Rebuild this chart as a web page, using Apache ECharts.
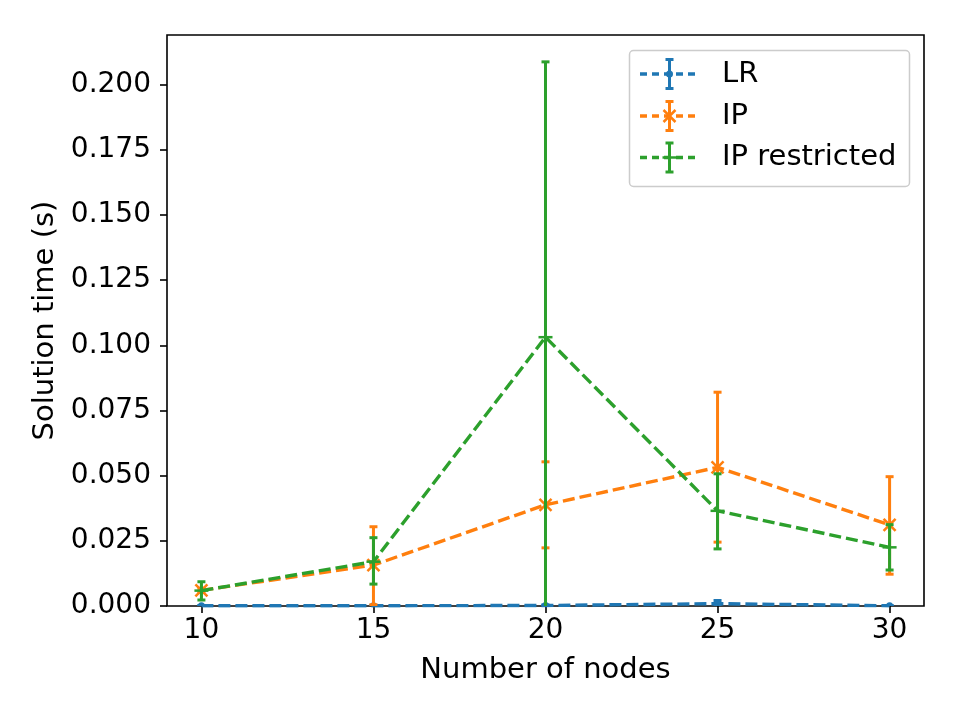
<!DOCTYPE html>
<html>
<head>
<meta charset="utf-8">
<script src="https://cdn.jsdelivr.net/npm/echarts@6/dist/echarts.min.js"></script>
<style>
  html, body { margin: 0; padding: 0; background: #fff; }
  #chart { width: 961px; height: 719px; }
</style>
</head>
<body>
<div id="chart"></div>
<script>
// number of nodes on the x axis
var nodes = [10, 15, 20, 25, 30];

// LR
var lrMean = [0.0001, 0.0001, 0.0002, 0.0009, 0.0001];
var lrLow  = [0.0000, 0.0000, 0.0000, 0.0000, 0.0000];
var lrHigh = [0.0002, 0.0002, 0.0004, 0.0021, 0.0002];

// IP
var ipMean = [0.0060, 0.0157, 0.0388, 0.0532, 0.0311];
var ipLow  = [0.0052, 0.0005, 0.0223, 0.0245, 0.0122];
var ipHigh = [0.0068, 0.0304, 0.0553, 0.0820, 0.0496];

// IP restricted
var iprMean = [0.0059, 0.0170, 0.1031, 0.0365, 0.0225];
var iprLow  = [0.0023, 0.0084, -0.0025, 0.0219, 0.0138];
var iprHigh = [0.0093, 0.0262, 0.2087, 0.0507, 0.0312];

var xTicks = [10, 15, 20, 25, 30];
var yTicks = [0, 0.025, 0.05, 0.075, 0.1, 0.125, 0.15, 0.175, 0.2];

var C_LR = '#1f77b4', C_IP = '#ff7f0e', C_IPR = '#2ca02c';
var FONT = 'DejaVu Sans';

function zipLine(mean) {
    return nodes.map(function (x, i) { return [x, mean[i]]; });
}
function zipBars(mean, low, high) {
    return nodes.map(function (x, i) { return [x, mean[i], low[i], high[i]]; });
}

// marker shapes, drawn around (cx, cy)
function marker(kind, cx, cy, color) {
    if (kind === 'dot') {
        return [{ type: 'circle', shape: { cx: cx, cy: cy, r: 3.5 }, style: { fill: color } }];
    }
    var st = { stroke: color, lineWidth: 2.5 };
    if (kind === 'x') {
        return [
            { type: 'line', shape: { x1: cx - 6, y1: cy - 6, x2: cx + 6, y2: cy + 6 }, style: st },
            { type: 'line', shape: { x1: cx - 6, y1: cy + 6, x2: cx + 6, y2: cy - 6 }, style: st }
        ];
    }
    return [
        { type: 'line', shape: { x1: cx - 7, y1: cy, x2: cx + 7, y2: cy }, style: st },
        { type: 'line', shape: { x1: cx, y1: cy - 7, x2: cx, y2: cy + 7 }, style: st }
    ];
}

function errorBars(color, kind) {
    return function (params, api) {
        var x = api.value(0);
        var pm = api.coord([x, api.value(1)]);
        var pl = api.coord([x, api.value(2)]);
        var ph = api.coord([x, api.value(3)]);
        var st = { stroke: color, lineWidth: 3 };
        var kids = [
            { type: 'line', shape: { x1: ph[0], y1: ph[1], x2: pl[0], y2: pl[1] }, style: st },
            { type: 'line', shape: { x1: ph[0] - 4, y1: ph[1], x2: ph[0] + 4, y2: ph[1] }, style: st },
            { type: 'line', shape: { x1: pl[0] - 4, y1: pl[1], x2: pl[0] + 4, y2: pl[1] }, style: st }
        ];
        return { type: 'group', children: kids.concat(marker(kind, pm[0], pm[1], color)) };
    };
}

function lineSeries(name, mean, color, z) {
    return {
        name: name, type: 'line', data: zipLine(mean), showSymbol: false,
        lineStyle: { color: color, width: 3.4, type: [12, 5] },
        z: z, silent: true, animation: false
    };
}
function barSeries(name, mean, low, high, color, kind, z) {
    return {
        name: name, type: 'custom', data: zipBars(mean, low, high),
        renderItem: errorBars(color, kind), clip: true,
        encode: { x: 0, y: 1 }, z: z, silent: true, animation: false
    };
}

// legend drawn by hand so it gets the dashed line + error bar glyph
function legendRow(y, color, kind, label) {
    var st = { stroke: color, lineWidth: 3 };
    var kids = [
        { type: 'line', shape: { x1: 640, y1: y, x2: 699, y2: y }, style: { stroke: color, lineWidth: 3.4, lineDash: [7, 5] } },
        { type: 'line', shape: { x1: 669.5, y1: y - 14.5, x2: 669.5, y2: y + 14.5 }, style: st },
        { type: 'line', shape: { x1: 665.5, y1: y - 14.5, x2: 673.5, y2: y - 14.5 }, style: st },
        { type: 'line', shape: { x1: 665.5, y1: y + 14.5, x2: 673.5, y2: y + 14.5 }, style: st }
    ];
    kids = kids.concat(marker(kind, 669.5, y, color));
    kids.push({
        type: 'text', x: 722, y: y,
        style: { text: label, fontSize: 29, fontFamily: FONT, fill: '#000', verticalAlign: 'middle' }
    });
    return kids;
}

var legendKids = [
    { type: 'rect', shape: { x: 629.5, y: 50.5, width: 280, height: 136, r: 4 }, style: { fill: 'rgba(255,255,255,0.8)', stroke: '#cccccc', lineWidth: 1.5 } }
].concat(legendRow(74, C_LR, 'dot', 'LR'))
 .concat(legendRow(116, C_IP, 'x', 'IP'))
 .concat(legendRow(157.5, C_IPR, 'plus', 'IP restricted'));

var chart = echarts.init(document.getElementById('chart'), null, { renderer: 'canvas' });

var option = {
    backgroundColor: '#fff',
    animation: false,
    textStyle: { fontFamily: FONT },
    grid: {
        left: 167, right: 37, top: 35, bottom: 113,
        show: true, borderColor: '#000', borderWidth: 1.6, backgroundColor: 'transparent'
    },
    xAxis: {
        type: 'value', min: 9, max: 31,
        name: 'Number of nodes', nameLocation: 'middle', nameGap: 50,
        nameTextStyle: { fontSize: 29, color: '#000', fontFamily: FONT },
        axisLine: { show: false },
        axisTick: { show: true, customValues: xTicks, length: 7, lineStyle: { color: '#000', width: 1.6 } },
        axisLabel: { customValues: xTicks, fontSize: 28, color: '#000', margin: 11, fontFamily: FONT },
        splitLine: { show: false }
    },
    yAxis: {
        type: 'value', min: 0, max: 0.219,
        name: 'Solution time (s)', nameLocation: 'middle', nameGap: 103, nameRotate: 90,
        nameTextStyle: { fontSize: 29, color: '#000', fontFamily: FONT },
        axisLine: { show: false },
        axisTick: { show: true, customValues: yTicks, length: 7, lineStyle: { color: '#000', width: 1.6 } },
        axisLabel: {
            customValues: yTicks, fontSize: 28, color: '#000', margin: 16, fontFamily: FONT,
            formatter: function (v) { return v.toFixed(3); }
        },
        splitLine: { show: false }
    },
    series: [
        lineSeries('LR', lrMean, C_LR, 2),
        barSeries('LR', lrMean, lrLow, lrHigh, C_LR, 'dot', 3),
        lineSeries('IP', ipMean, C_IP, 4),
        barSeries('IP', ipMean, ipLow, ipHigh, C_IP, 'x', 5),
        lineSeries('IP restricted', iprMean, C_IPR, 6),
        barSeries('IP restricted', iprMean, iprLow, iprHigh, C_IPR, 'plus', 7)
    ],
    graphic: [{ type: 'group', z: 100, children: legendKids }]
};

chart.setOption(option);
</script>
</body>
</html>
